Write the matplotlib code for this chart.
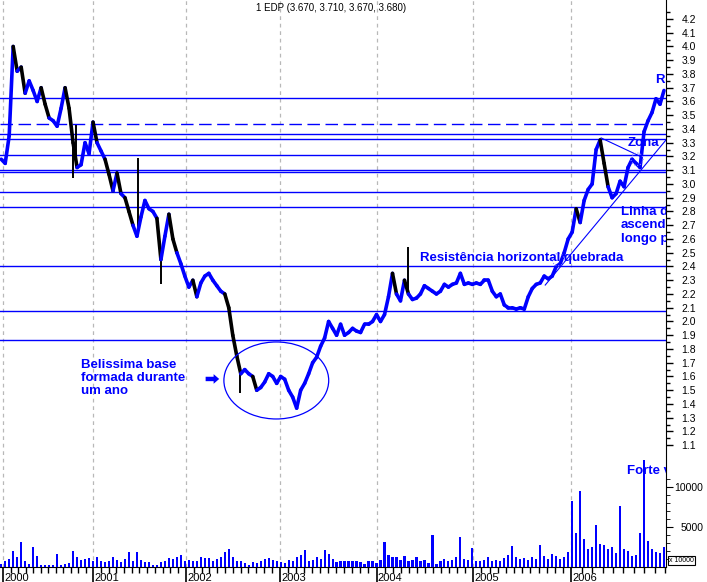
import numpy as np
import matplotlib
matplotlib.use('Agg')
import matplotlib.pyplot as plt
from matplotlib.collections import LineCollection
from matplotlib.patches import Ellipse

plt.rcParams['font.family'] = ['Liberation Sans', 'DejaVu Sans']

# closing price, one sample every ~2.5 trading weeks, grouped by year
close_2000 = [3.18, 3.15, 3.35, 4.0, 3.82, 3.85, 3.66, 3.75, 3.68, 3.6, 3.7, 3.58,
              3.48, 3.46, 3.42, 3.55, 3.7, 3.55, 3.3, 3.12, 3.14, 3.3, 3.22]
close_2001 = [3.45, 3.3, 3.24, 3.18, 3.07, 2.95, 3.08, 2.93, 2.9, 2.8, 2.7, 2.62,
              2.76, 2.88, 2.82, 2.8, 2.75, 2.45, 2.62, 2.78, 2.6, 2.5, 2.42]
close_2002 = [2.33, 2.25, 2.3, 2.18, 2.28, 2.33, 2.35, 2.3, 2.26, 2.22, 2.2, 2.1,
              1.9, 1.75, 1.62, 1.65, 1.62, 1.6, 1.5, 1.52, 1.56, 1.62, 1.6, 1.55]
close_2003 = [1.6, 1.58, 1.5, 1.45, 1.37, 1.5, 1.55, 1.62, 1.7, 1.74, 1.82, 1.88,
              2.0, 1.95, 1.9, 1.98, 1.9, 1.92, 1.95, 1.93, 1.92, 1.98, 1.98, 2.0]
close_2004 = [2.05, 2.0, 2.05, 2.18, 2.35, 2.2, 2.15, 2.3, 2.2, 2.16, 2.17, 2.2, 2.26,
              2.24, 2.22, 2.2, 2.22, 2.27, 2.25, 2.27, 2.28, 2.35, 2.27, 2.28, 2.27]
close_2005 = [2.28, 2.27, 2.3, 2.3, 2.22, 2.18, 2.2, 2.12, 2.1, 2.1, 2.09, 2.1,
              2.09, 2.18, 2.24, 2.27, 2.28, 2.33, 2.31, 2.33, 2.4, 2.42, 2.5, 2.6]
close_2006 = [2.65, 2.82, 2.72, 2.88, 2.96, 3.0, 3.25, 3.32, 3.15, 2.98, 2.9, 2.93,
              3.02, 2.98, 3.12, 3.18, 3.15, 3.12, 3.38, 3.46, 3.52, 3.62, 3.58, 3.68]

vol_2000 = [400, 700, 1000, 2000, 1200, 3100, 700, 400, 2500, 1400, 300, 300,
            200, 300, 1600, 300, 400, 500, 2000, 1200, 900, 1000, 1100]
vol_2001 = [800, 1300, 800, 600, 700, 1200, 900, 600, 1000, 1900, 800, 1900,
            900, 600, 600, 200, 300, 600, 700, 1100, 1000, 1200, 1500]
vol_2002 = [700, 900, 700, 800, 1300, 1100, 1100, 700, 1000, 1200, 1900, 2300,
            1300, 800, 700, 500, 300, 600, 500, 800, 1000, 1100, 900, 700]
vol_2003 = [600, 500, 900, 700, 1200, 1500, 2100, 800, 900, 1300, 1000, 2100,
            1600, 1000, 600, 700, 800, 700, 800, 700, 600, 400, 700, 800]
vol_2004 = [500, 900, 3100, 1500, 1300, 1200, 900, 1400, 800, 900, 1300, 700, 900,
            500, 4000, 400, 800, 1000, 700, 900, 1300, 3700, 1000, 900, 2400]
vol_2005 = [700, 800, 900, 1200, 800, 900, 700, 1100, 1500, 2600, 1300, 1000,
            1100, 900, 1300, 1000, 2700, 1400, 1000, 1600, 1400, 1000, 1300, 1900]
vol_2006 = [8200, 4300, 9500, 3500, 2200, 2500, 5300, 2900, 2700, 2200, 2500, 1800,
            7600, 2200, 2000, 1400, 1500, 4300, 13400, 3300, 2200, 1900, 1800, 2500]

years = ['2000', '2001', '2002', '2003', '2004', '2005', '2006']
year_start = [0.5, 23, 46.25, 69.75, 94, 118.25, 142.75]   # in sample units

# big intraday lows (wicks)
wick_pos = [18.75, 34.25, 18, 102, 40, 59.75]
wick_low = [3.43, 3.19, 3.04, 2.54, 2.27, 1.48]

# horizontal support / resistance levels
levels = [3.625, 3.36, 3.33, 3.21, 3.105, 3.085, 2.94, 2.83, 2.40, 2.075, 1.865]
dashed_level = 3.435

close = np.array(close_2000 + close_2001 + close_2002 + close_2003 +
                 close_2004 + close_2005 + close_2006)
volume = np.array(vol_2000 + vol_2001 + vol_2002 + vol_2003 +
                  vol_2004 + vol_2005 + vol_2006)
x = np.arange(len(close))

blue = '#0000ff'

fig = plt.figure(figsize=(7.07, 5.82), dpi=100)
ax = fig.add_axes([0, 15 / 582, 666 / 707, 567 / 582])
ax.set_xlim(-0.3, 166.5)
ax.set_ylim(0.2145, 4.338)

# year grid
for p in year_start:
    ax.axvline(p, color='#b8b8b8', lw=0.9, ls=(0, (3, 3)), zorder=0)

for lv in levels:
    ax.axhline(lv, color=blue, lw=1.0, zorder=1)
ax.axhline(dashed_level, color=blue, lw=1.0, ls=(0, (9, 4)), zorder=1)

# price line: blue, black on sharp falls
pts = np.column_stack([x, close]).reshape(-1, 1, 2)
segs = np.concatenate([pts[:-1], pts[1:]], axis=1)
cols = ['black' if close[i + 1] < close[i] - 0.09 else blue for i in range(len(close) - 1)]
ax.add_collection(LineCollection(segs, colors=cols, linewidths=2.6, zorder=3,
                                 capstyle='round', joinstyle='round'))
ax.vlines(wick_pos, wick_low, np.interp(wick_pos, x, close), color='black', lw=1.4, zorder=2)

# annotations
ax.plot([136.25, 166.5], [2.265, 3.32], color=blue, lw=0.8, zorder=2)
ax.plot([150.25, 160.5], [3.335, 3.195], color=blue, lw=0.8, zorder=2)
ax.add_patch(Ellipse((68.9, 1.571), 26.25, 0.56, fill=False, ec=blue, lw=0.9, zorder=4))
ax.add_patch(Ellipse((159.25, 3.18), 3, 0.09, fill=False, ec='#8080ff', lw=0.8, ls=':', zorder=4))
ax.add_patch(Ellipse((139.5, 2.45), 3, 0.09, fill=False, ec='#8080ff', lw=0.8, ls=':', zorder=4))
ax.arrow(51.2, 1.582, 2.0, 0, width=0.032, head_width=0.07, head_length=1.4,
         length_includes_head=False, color=blue, lw=0, zorder=5)

txt = dict(color=blue, fontsize=9.5, fontweight='bold', clip_on=True, zorder=5)
ax.text(20, 1.59, 'Belissima base\nformada durante\num ano', va='center', ha='left',
        linespacing=1.15, **txt)
ax.text(105, 2.462, 'Resistência horizontal quebrada', va='center', **txt)
ax.text(157, 3.30, 'Zona', va='center', **txt)
ax.text(163.8, 3.756, 'R', va='center', **txt)
ax.text(155.2, 2.70, 'Linha de\nascendente\nlongo prazo', va='center', linespacing=1.15, **txt)
ax.text(156.7, 0.913, 'Forte volume', va='center', **txt)

# x axis: years and months
months = np.concatenate([np.linspace(a, b, 13)[1:-1]
                         for a, b in zip(year_start, year_start[1:] + [166.5 + 7.7])])
ax.set_xticks(year_start)
ax.set_xticklabels([])
ax.set_xticks(months[months < 166.4], minor=True)
ax.tick_params(axis='x', which='major', length=11, width=1.2)
ax.tick_params(axis='x', which='minor', length=4, width=1)
for p, yr in zip(year_start, years):
    ax.text(p + 0.35, -0.019, yr, transform=ax.get_xaxis_transform(), fontsize=8,
            va='center', ha='left')

# volume
vax = ax.twinx()
vax.set_ylim(0, 567 / 40 * 5000)
vax.bar(x, volume, width=0.55, color=blue, zorder=2)
vax.set_yticks([5000, 10000])
vax.set_yticklabels(['5000', '10000'])
vax.set_yticks(np.arange(1000, 12000, 1000), minor=True)
vax.tick_params(axis='y', which='major', length=5, labelsize=7.5, pad=22)
vax.tick_params(axis='y', which='minor', length=3)
for lbl in vax.get_yticklabels():
    lbl.set_horizontalalignment('right')
for s in ['left', 'top', 'bottom', 'right']:
    vax.spines[s].set_visible(False)
vax.text(1.005, 0.012, 'x 10000', transform=vax.transAxes, fontsize=5, ha='left', va='center',
         bbox=dict(boxstyle='square,pad=0.15', fc='white', ec='black', lw=0.8))

# price axis on the right (set after twinx, which moves it left)
ax.spines[['left', 'top']].set_visible(False)
ax.spines['right'].set_visible(True)
ax.yaxis.tick_right()
ax.set_yticks(np.round(np.arange(1.1, 4.25, 0.1), 1))
ax.set_yticklabels(['%.1f' % v for v in np.arange(1.1, 4.25, 0.1)])
ax.set_yticks(np.arange(1.15, 4.3, 0.1), minor=True)
ax.tick_params(axis='y', which='major', length=5, width=1, labelsize=7.5, pad=6)
ax.tick_params(axis='y', which='minor', length=3, width=1)

fig.text(256 / 707, 1 - 8 / 582, '1 EDP (3.670, 3.710, 3.670, 3.680)', fontsize=7,
         va='center', ha='left')

fig.savefig('out.png', dpi=100)
